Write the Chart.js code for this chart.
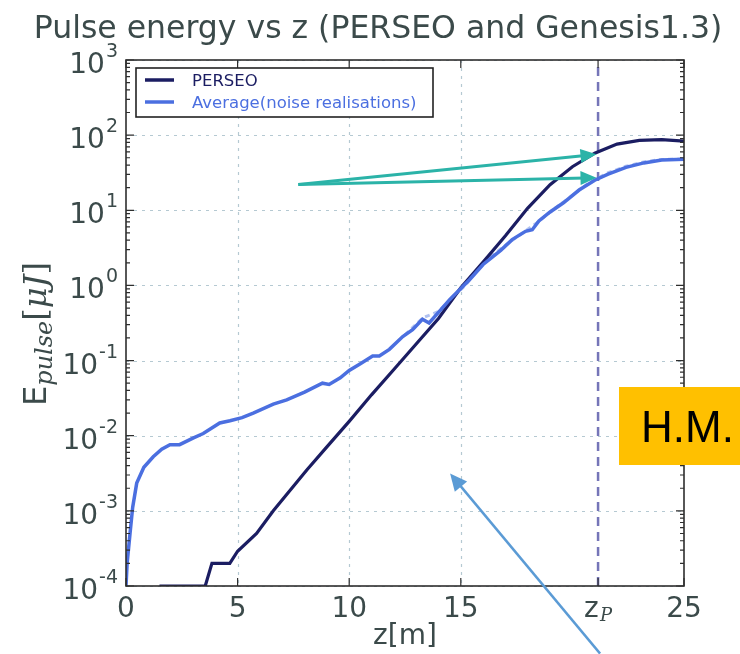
<!DOCTYPE html>
<html>
<head>
<meta charset="utf-8">
<script src="https://cdn.jsdelivr.net/npm/chart.js@4.4.1/dist/chart.umd.min.js"></script>
<style>
  html, body { margin: 0; padding: 0; background: #fff; }
  #wrap { width: 740px; height: 654px; position: relative; }
</style>
</head>
<body>
<div id="wrap"><canvas id="chart" width="740" height="654"></canvas></div>
<script>
// PERSEO curve (z in m, energy in uJ)
const perseoZ = [1.5, 3.55, 3.85, 4.65, 5.0, 5.85, 6.6, 8.1, 9.0, 10.0, 11.0, 12.0, 13.0, 14.0, 15.0, 16.0, 17.0, 18.0, 19.0, 20.0, 21.0, 22.0, 23.0, 24.0, 25.0];
const perseoE = [1.0e-4, 1.0e-4, 2.0e-4, 2.0e-4, 2.9e-4, 5.0e-4, 1.0e-3, 3.5e-3, 7.1e-3, 1.55e-2, 3.5e-2, 7.6e-2, 0.166, 0.363, 0.93, 2.04, 4.57, 10.7, 21.9, 38, 57.5, 75.9, 85, 87, 83];

// Genesis1.3 average over noise realisations
const avgZ = [0, 0.05, 0.18, 0.3, 0.48, 0.8, 1.22, 1.6, 1.97, 2.4, 3.0, 3.46, 4.2, 4.66, 5.2, 5.7, 6.6, 7.2, 8.0, 8.8, 9.1, 9.6, 10.0, 10.5, 11.05, 11.35, 11.8, 12.4, 12.84, 13.28, 13.58, 14.0, 14.5, 15.0, 15.4, 16.0, 16.3, 16.8, 17.3, 17.9, 18.2, 18.5, 19.0, 19.6, 20.3, 21.0, 21.6, 22.4, 23.2, 24.0, 25.0];
const avgE = [1e-4, 2e-4, 5e-4, 1.12e-3, 2.34e-3, 3.8e-3, 5.25e-3, 6.6e-3, 7.6e-3, 7.6e-3, 9.3e-3, 1.07e-2, 1.48e-2, 1.58e-2, 1.74e-2, 2.0e-2, 2.63e-2, 3.0e-2, 3.8e-2, 5.0e-2, 4.8e-2, 5.9e-2, 7.4e-2, 9.1e-2, 0.115, 0.115, 0.141, 0.209, 0.257, 0.355, 0.316, 0.437, 0.646, 0.912, 1.2, 1.9, 2.24, 2.95, 4.07, 5.25, 5.5, 7.2, 9.5, 12.6, 18.6, 25.1, 30.2, 37.2, 42.7, 46.8, 47.9];

// faint dashed spread around the average
const spreadZ = [12.5, 13.3, 14.0, 14.6, 15.2, 16.0, 16.8, 17.6, 18.4, 19.2, 20.0, 20.8, 21.6, 22.4, 23.2, 24.0, 25.0];
const spreadE = [0.22, 0.37, 0.45, 0.68, 1.0, 2.0, 3.1, 4.6, 6.8, 10.5, 15.8, 24, 31.6, 38.5, 44, 47.5, 48];

const zP = 21.15;
const xTicks = [0, 5, 10, 15, zP, 25];
const xTickLabels = ['0', '5', '10', '15', 'zP', '25'];
const xGrid = [5, 10, 15];
const yMajor = [1e-4, 1e-3, 1e-2, 1e-1, 1, 10, 100, 1000];
const yExp = ['-4', '-3', '-2', '-1', '0', '1', '2', '3'];

// annotation arrows, data coordinates [z, E]
const tealStart = [7.72, 22.1];
const tealTips = [[21.08, 55.5], [21.08, 27.2]];
const blueArrowHead = [14.52, 3.14e-3];
const blueArrowTail = [21.24, 1.26e-5];

const legendItems = [
  { text: 'PERSEO', color: '#1b1d62' },
  { text: 'Average(noise realisations)', color: '#4b6fe0' }
];

const textColor = '#3b4a4a';

function pts(xs, ys) {
  return xs.map((v, i) => ({ x: v, y: ys[i] }));
}

function arrow(ctx, x0, y0, x1, y1, len, half) {
  const ang = Math.atan2(y1 - y0, x1 - x0);
  ctx.beginPath();
  ctx.moveTo(x0, y0);
  ctx.lineTo(x1 - Math.cos(ang) * len * 0.7, y1 - Math.sin(ang) * len * 0.7);
  ctx.stroke();
  ctx.beginPath();
  ctx.moveTo(x1, y1);
  ctx.lineTo(x1 - Math.cos(ang) * len + Math.sin(ang) * half, y1 - Math.sin(ang) * len - Math.cos(ang) * half);
  ctx.lineTo(x1 - Math.cos(ang) * len - Math.sin(ang) * half, y1 - Math.sin(ang) * len + Math.cos(ang) * half);
  ctx.closePath();
  ctx.fill();
}

const decor = {
  id: 'decor',
  beforeDatasetsDraw(chart) {
    const { ctx, chartArea: a, scales: { x, y } } = chart;
    ctx.save();
    ctx.strokeStyle = '#b5c9d2';
    ctx.lineWidth = 1.2;
    ctx.setLineDash([3, 5]);
    xGrid.forEach(v => {
      const px = Math.round(x.getPixelForValue(v)) + 0.5;
      ctx.beginPath(); ctx.moveTo(px, a.top); ctx.lineTo(px, a.bottom); ctx.stroke();
    });
    yMajor.forEach(v => {
      const py = Math.round(y.getPixelForValue(v)) + 0.5;
      ctx.beginPath(); ctx.moveTo(a.left, py); ctx.lineTo(a.right, py); ctx.stroke();
    });
    ctx.restore();
  },
  afterDraw(chart) {
    const { ctx, chartArea: a, scales: { x, y } } = chart;
    ctx.save();

    // frame
    ctx.strokeStyle = '#2e2e2e';
    ctx.lineWidth = 1.6;
    ctx.strokeRect(a.left, a.top, a.right - a.left, a.bottom - a.top);

    // ticks (inward)
    ctx.lineWidth = 1.2;
    ctx.beginPath();
    yMajor.forEach((v, i) => {
      const py = y.getPixelForValue(v);
      ctx.moveTo(a.left, py); ctx.lineTo(a.left + 8, py);
      ctx.moveTo(a.right, py); ctx.lineTo(a.right - 8, py);
      if (i < yMajor.length - 1) {
        for (let k = 2; k <= 9; k++) {
          const pm = y.getPixelForValue(v * k);
          ctx.moveTo(a.left, pm); ctx.lineTo(a.left + 4, pm);
          ctx.moveTo(a.right, pm); ctx.lineTo(a.right - 4, pm);
        }
      }
    });
    xTicks.forEach(v => {
      const px = x.getPixelForValue(v);
      ctx.moveTo(px, a.bottom); ctx.lineTo(px, a.bottom - 8);
      ctx.moveTo(px, a.top); ctx.lineTo(px, a.top + 8);
    });
    ctx.stroke();

    // y tick labels 10^n
    ctx.fillStyle = textColor;
    ctx.textBaseline = 'alphabetic';
    ctx.textAlign = 'right';
    yMajor.forEach((v, i) => {
      const py = y.getPixelForValue(v);
      ctx.font = '19px "DejaVu Sans"';
      const ew = ctx.measureText(yExp[i]).width;
      ctx.fillText(yExp[i], 118, py - 3);
      ctx.font = '28px "DejaVu Sans"';
      ctx.fillText('10', 118 - ew - 1, py + 13);
    });

    // x tick labels
    ctx.textAlign = 'center';
    xTicks.forEach((v, i) => {
      const px = x.getPixelForValue(v);
      if (xTickLabels[i] === 'zP') {
        ctx.font = '28px "DejaVu Sans"';
        ctx.textAlign = 'left';
        ctx.fillText('z', px - 14, 617);
        ctx.font = 'italic 18px "DejaVu Serif"';
        ctx.fillText('P', px + 2, 621);
        ctx.textAlign = 'center';
      } else {
        ctx.font = '28px "DejaVu Sans"';
        ctx.fillText(xTickLabels[i], px, 617);
      }
    });

    // x axis title
    ctx.font = '28px "DejaVu Sans"';
    ctx.fillText('z[m]', (a.left + a.right) / 2, 644);

    // y axis title, rotated
    ctx.save();
    ctx.translate(46, 334);
    ctx.rotate(-Math.PI / 2);
    const parts = [
      { t: 'E', f: '32px "DejaVu Sans"', dy: 0 },
      { t: 'pulse', f: 'italic 24px "DejaVu Serif"', dy: 6 },
      { t: '[', f: '32px "DejaVu Serif"', dy: 0 },
      { t: 'μJ', f: 'italic 32px "DejaVu Serif"', dy: 0 },
      { t: ']', f: '32px "DejaVu Serif"', dy: 0 }
    ];
    let tw = 0;
    parts.forEach(p => { ctx.font = p.f; p.w = ctx.measureText(p.t).width; tw += p.w; });
    let cx = -tw / 2;
    ctx.textAlign = 'left';
    parts.forEach(p => { ctx.font = p.f; ctx.fillText(p.t, cx, p.dy); cx += p.w; });
    ctx.restore();

    // title
    ctx.textAlign = 'center';
    ctx.font = '31.5px "DejaVu Sans"';
    ctx.fillText('Pulse energy vs z (PERSEO and Genesis1.3)', 378, 38);

    // legend
    ctx.fillStyle = '#fff';
    ctx.fillRect(136, 68, 297, 49);
    ctx.strokeStyle = '#222';
    ctx.lineWidth = 1.6;
    ctx.strokeRect(136, 68, 297, 49);
    ctx.textAlign = 'left';
    ctx.font = '16.5px "DejaVu Sans"';
    legendItems.forEach((it, i) => {
      const ly = 80 + i * 22;
      ctx.strokeStyle = it.color;
      ctx.lineWidth = 3.5;
      ctx.beginPath(); ctx.moveTo(145, ly); ctx.lineTo(174, ly); ctx.stroke();
      ctx.fillStyle = it.color;
      ctx.fillText(it.text, 192, ly + 6);
    });

    // teal arrows
    ctx.strokeStyle = '#2bb3a8';
    ctx.fillStyle = '#2bb3a8';
    ctx.lineWidth = 3;
    const sx = x.getPixelForValue(tealStart[0]), sy = y.getPixelForValue(tealStart[1]);
    tealTips.forEach(t => {
      arrow(ctx, sx, sy, x.getPixelForValue(t[0]), y.getPixelForValue(t[1]), 16, 7);
    });

    // blue pointer arrow
    ctx.strokeStyle = '#5b9bd5';
    ctx.fillStyle = '#5b9bd5';
    ctx.lineWidth = 2.5;
    arrow(ctx, x.getPixelForValue(blueArrowTail[0]), y.getPixelForValue(blueArrowTail[1]),
      x.getPixelForValue(blueArrowHead[0]), y.getPixelForValue(blueArrowHead[1]), 17, 8);

    // H.M. box
    ctx.fillStyle = '#ffc000';
    ctx.fillRect(619, 387, 121, 78);
    ctx.fillStyle = '#000';
    ctx.font = '44px "Liberation Sans"';
    ctx.fillText('H.M.', 641, 442);

    ctx.restore();
  }
};

new Chart(document.getElementById('chart'), {
  type: 'line',
  data: {
    datasets: [
      { label: 'Average(noise realisations)', data: pts(avgZ, avgE), borderColor: '#4b6fe0', borderWidth: 3.5, pointRadius: 0, tension: 0, order: 0 },
      { label: 'PERSEO', data: pts(perseoZ, perseoE), borderColor: '#1b1d62', borderWidth: 3.2, pointRadius: 0, tension: 0, order: 1 },
      { label: 'spread', data: pts(spreadZ, spreadE), borderColor: 'rgba(150,172,235,0.75)', borderWidth: 3, borderDash: [5, 4], pointRadius: 0, tension: 0, order: 2 },
      { label: 'zP', data: [{ x: zP, y: yMajor[0] }, { x: zP, y: yMajor[yMajor.length - 1] }], borderColor: '#7575b8', borderWidth: 2.5, borderDash: [9, 6], pointRadius: 0, order: 3 }
    ]
  },
  options: {
    responsive: false,
    animation: false,
    devicePixelRatio: 1,
    layout: { padding: { top: 60, right: 56, left: 0, bottom: 0 } },
    plugins: { legend: { display: false }, tooltip: { enabled: false }, title: { display: false } },
    scales: {
      x: {
        type: 'linear', min: 0, max: 25,
        ticks: { display: false },
        grid: { display: false },
        border: { display: false },
        afterFit: s => { s.height = 68; }
      },
      y: {
        type: 'logarithmic', min: yMajor[0], max: yMajor[yMajor.length - 1],
        ticks: { display: false },
        grid: { display: false },
        border: { display: false },
        afterFit: s => { s.width = 126; }
      }
    }
  },
  plugins: [decor]
});
</script>
</body>
</html>
